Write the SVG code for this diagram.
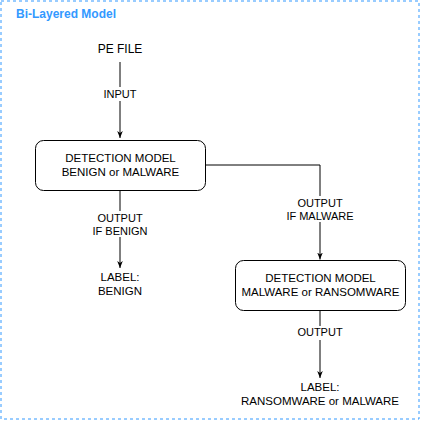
<svg xmlns="http://www.w3.org/2000/svg" width="421" height="421" viewBox="0 0 421 421">
<style>
text{font-family:"Liberation Sans",Arial,sans-serif;fill:#000;text-anchor:middle}
.n{font-size:11.5px}
.lbl{font-size:11px}
.box{fill:#fff;stroke:#000;stroke-width:1}
.edge{fill:none;stroke:#000;stroke-width:1}
.title{font-size:12px;font-weight:bold;fill:#3399ff;text-anchor:start}
</style>
<defs>
<marker id="arr" viewBox="0 0 10 10" refX="10" refY="5" markerWidth="7" markerHeight="7" markerUnits="userSpaceOnUse" orient="auto">
<path d="M0,1 L10,5 L0,9 L3,5 Z" fill="#000" stroke="none"/>
</marker>
</defs>
<rect width="421" height="421" fill="#fff"/>
<g id="container">
<rect x="1" y="1" width="418" height="418" fill="none" stroke="#3399ff" stroke-width="1" stroke-dasharray="3,3"/>
<text class="title" x="16" y="18">Bi-Layered Model</text>
</g>
<g id="connectors">
<path class="edge" d="M120,62 L120,138" marker-end="url(#arr)"/>
<path class="edge" d="M120,190 L120,268" marker-end="url(#arr)"/>
<path class="edge" d="M205,165 L320,165 L320,259.5" marker-end="url(#arr)"/>
<path class="edge" d="M320,310 L320,378" marker-end="url(#arr)"/>
<g id="edge-labels">
<rect x="101" y="87" width="38" height="14" fill="#fff"/>
<text class="lbl" x="120" y="98">INPUT</text>
<rect x="92" y="211" width="56" height="26" fill="#fff"/>
<text class="lbl" x="120" y="222">OUTPUT</text>
<text class="lbl" x="120" y="235">IF BENIGN</text>
<rect x="285" y="196" width="70" height="26" fill="#fff"/>
<text class="lbl" x="320" y="207">OUTPUT</text>
<text class="lbl" x="320" y="220">IF MALWARE</text>
<rect x="298" y="326" width="44" height="14" fill="#fff"/>
<text class="lbl" x="320" y="336">OUTPUT</text>
</g>
</g>
<g id="pe-file">
<text style="font-size:12px" x="120" y="53">PE FILE</text>
</g>
<g id="detection-1">
<rect class="box" x="35.5" y="140.5" width="170" height="50" rx="8" ry="8"/>
<text class="n" x="120.5" y="162">DETECTION MODEL</text>
<text class="n" x="120.5" y="176">BENIGN or MALWARE</text>
</g>
<g id="label-benign">
<text class="n" x="120" y="281">LABEL:</text>
<text class="n" x="120" y="295">BENIGN</text>
</g>
<g id="detection-2">
<rect class="box" x="235.5" y="260.5" width="170" height="50" rx="8" ry="8"/>
<text class="n" x="320.5" y="281.5">DETECTION MODEL</text>
<text class="n" x="320.5" y="295.5">MALWARE or RANSOMWARE</text>
</g>
<g id="label-final">
<text class="n" x="320" y="391">LABEL:</text>
<text class="n" x="320" y="405">RANSOMWARE or MALWARE</text>
</g>
</svg>
